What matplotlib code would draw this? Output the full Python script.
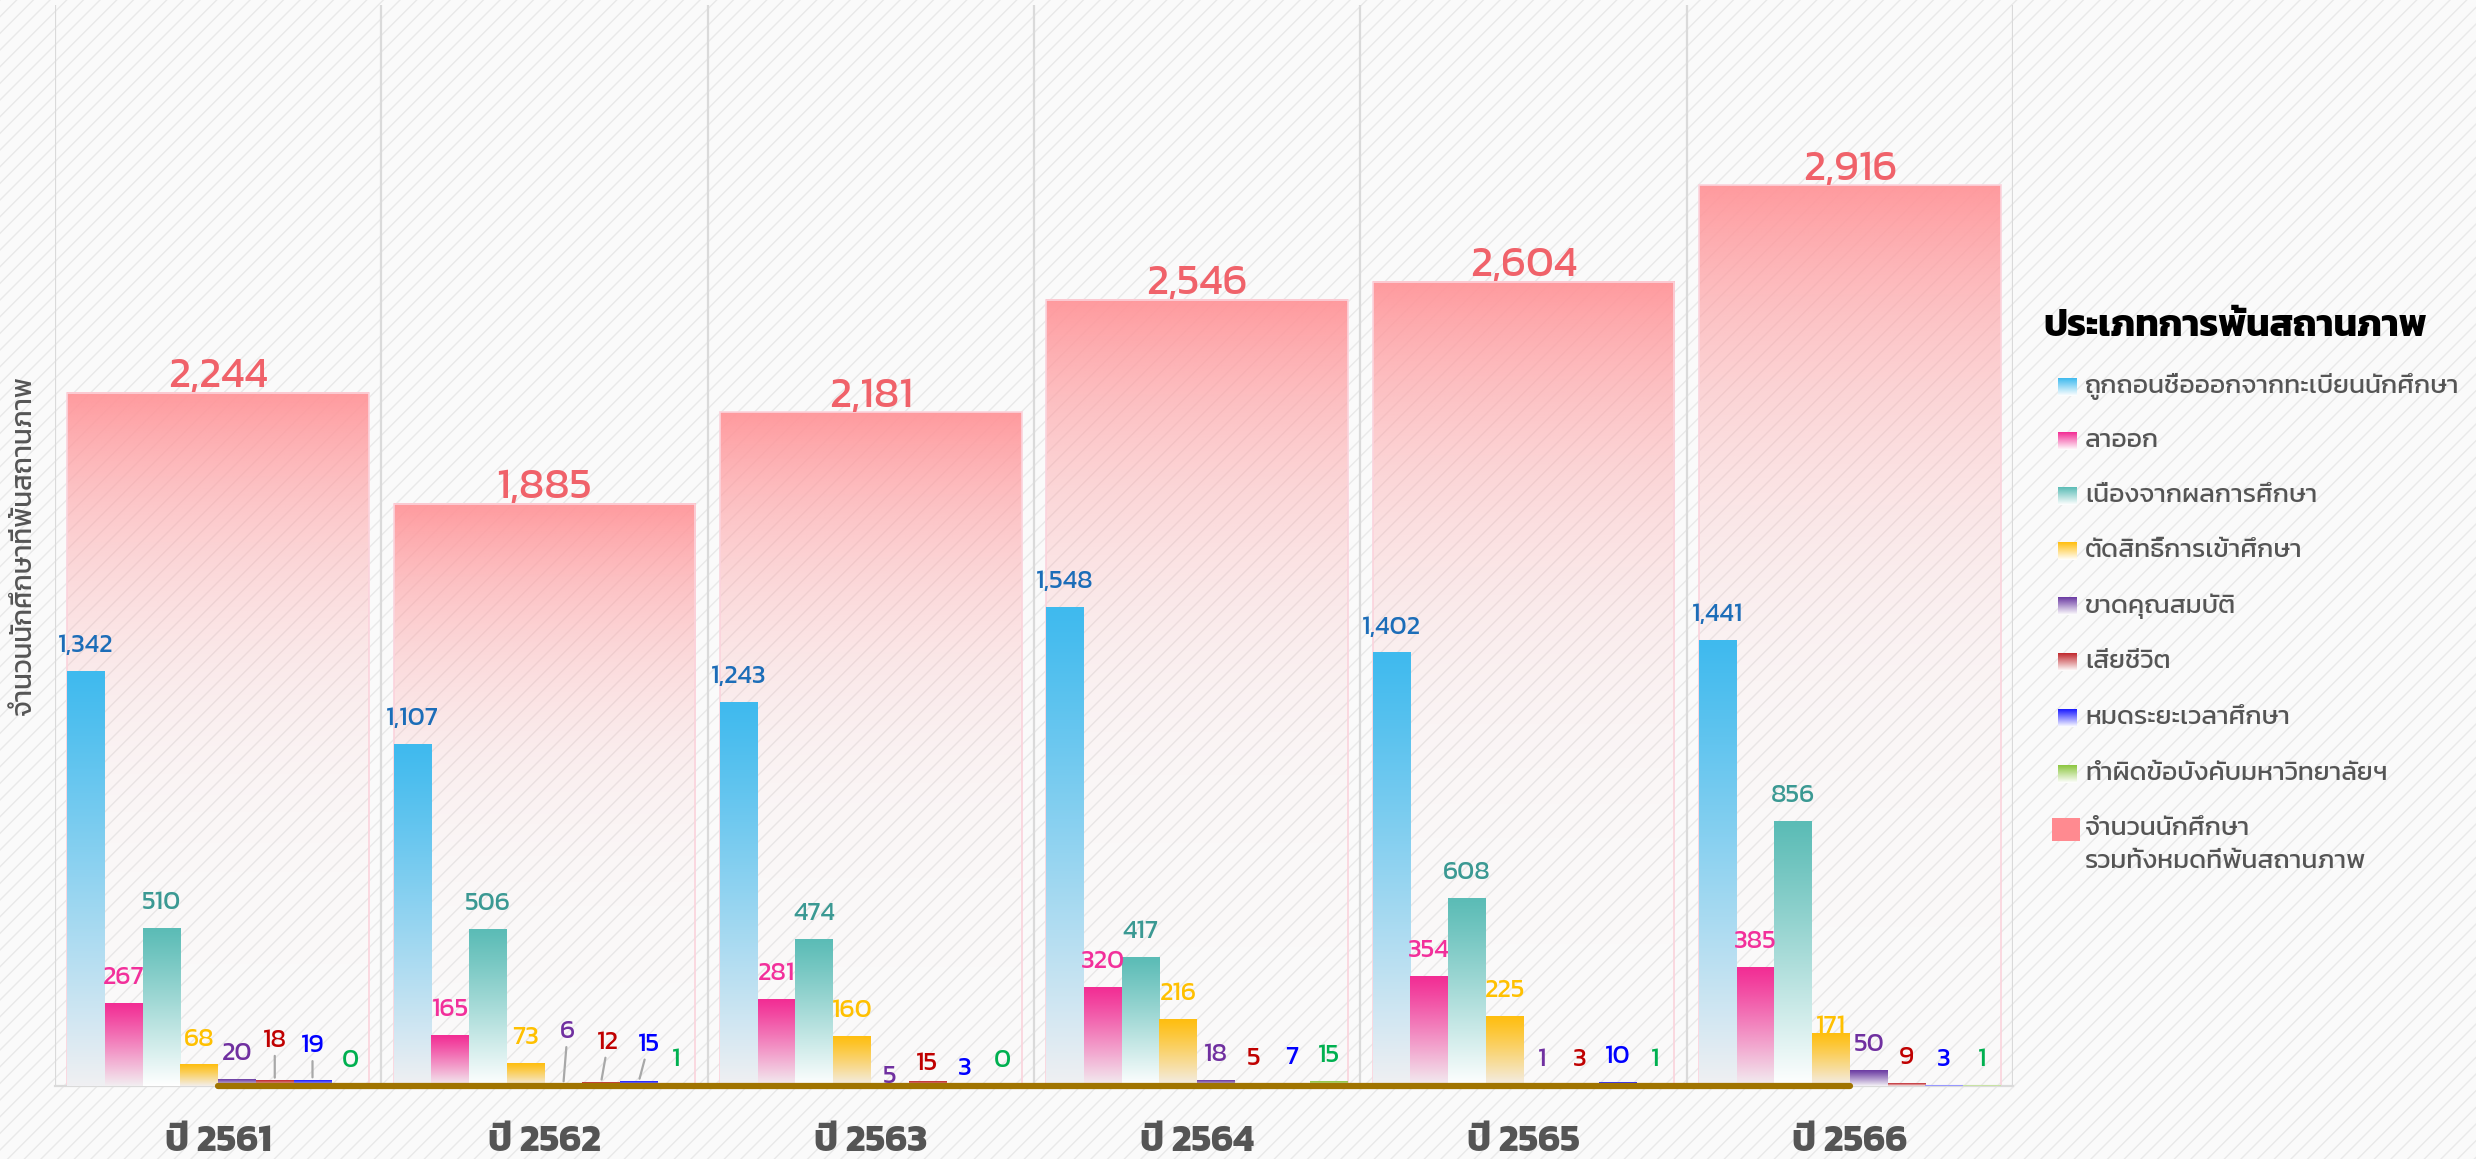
"""Students leaving status by type, academic years 2561-2566."""

import matplotlib

matplotlib.use("Agg")
import matplotlib.pyplot as plt
import numpy as np
from matplotlib import font_manager
from matplotlib.colors import to_rgb
from matplotlib.ft2font import FT2Font
from matplotlib.patches import Rectangle


years = [2561, 2562, 2563, 2564, 2565, 2566]
year_labels = [f"ปี {y}" for y in years]
totals = [2244, 1885, 2181, 2546, 2604, 2916]

series_names = [
    "ถูกถอนชื่อออกจากทะเบียนนักศึกษา",
    "ลาออก",
    "เนื่องจากผลการศึกษา",
    "ตัดสิทธิ์การเข้าศึกษา",
    "ขาดคุณสมบัติ",
    "เสียชีวิต",
    "หมดระยะเวลาศึกษา",
    "ทำผิดข้อบังคับมหาวิทยาลัยฯ",
]
withdrawn = [1342, 1107, 1243, 1548, 1402, 1441]
resigned = [267, 165, 281, 320, 354, 385]
academic = [510, 506, 474, 417, 608, 856]
revoked = [68, 73, 160, 216, 225, 171]
unqualified = [20, 6, 5, 18, 1, 50]
deceased = [18, 12, 15, 5, 3, 9]
time_expired = [19, 15, 3, 7, 10, 3]
misconduct = [0, 1, 0, 15, 1, 1]
series_values = [withdrawn, resigned, academic, revoked,
                 unqualified, deceased, time_expired, misconduct]
baseline_series = [0, 0, 0, 0, 0, 0]

total_name_1 = "จำนวนนักศึกษา"
total_name_2 = "รวมทั้งหมดที่พ้นสถานภาพ"
legend_title = "ประเภทการพ้นสถานภาพ"
y_title = "จำนวนนักศึกษาที่พ้นสถานภาพ"

# styling
top_colors = ["#3FBAEE", "#F22D94", "#5BBCB6", "#FFBE0F",
              "#6A3AA2", "#C0282D", "#1A1AFF", "#8CC63F"]
bottom_colors = ["#F0F0F3", "#F2EEF1", "#FFFFFF", "#F3EEEA",
                 "#F4F2F6", "#F6EEEE", "#F2F2FF", "#F4F8EE"]
label_colors = ["#1C6DB8", "#F2309B", "#3B9993", "#FFC000",
                "#7030A0", "#C00000", "#0000FF", "#00B050"]
# label nudges (dx, dy) in points, and whether a leader line is drawn
nudges = {
    (0, 5): (0, 10, True), (0, 6): (0, 6, True),
    (1, 4): (3, 19, True), (1, 5): (5, 10, True), (1, 6): (7, 8, True),
    (2, 4): (0, -13, False), (2, 5): (0, -6, False), (2, 6): (0, -7, False),
    (5, 3): (0, -14, False),
}


def pick_thai_font():
    preferred = ["Kanit", "Prompt", "Noto Sans Thai", "Noto Sans Thai Looped",
                 "Sarabun", "Loma", "Garuda", "Waree", "Umpush", "Norasi",
                 "Kinnari", "Laksaman", "Tlwg Typo"]
    found = {}
    for f in font_manager.fontManager.ttflist:
        if f.name in found:
            continue
        try:
            if 0x0E01 in FT2Font(f.fname).get_charmap():
                found[f.name] = f.fname
        except Exception:
            pass
    for name in preferred:
        if name in found:
            return name
    if found:
        return sorted(found)[0]
    return "DejaVu Sans"


thai = pick_thai_font()
plt.rcParams["font.family"] = [thai, "DejaVu Sans"]
plt.rcParams["hatch.linewidth"] = 1.0


def vgrad(top, bottom, n=256, power=1.0):
    t = np.linspace(0, 1, n) ** power
    a, b = np.array(to_rgb(top)), np.array(to_rgb(bottom))
    return (a[None, :] * (1 - t[:, None]) + b[None, :] * t[:, None])[:, None, :]


W, H = 2476, 1159
fig = plt.figure(figsize=(W / 100, H / 100), dpi=100, facecolor="#FAFAFA")
fig.patches.append(Rectangle((0, 0), 1, 1, transform=fig.transFigure,
                             facecolor="#FAFAFA", edgecolor="#E9E9E9",
                             hatch="//", lw=0, zorder=-10))

ax = fig.add_axes([55 / W, 1 - 1086 / H, (2013 - 55) / W, (1086 - 5) / H])
ax.set_facecolor("none")

n_series = len(series_values)
group_w = 0.925
bar_w = group_w / n_series
x = np.arange(len(years))

# total bars (wide, fading)
pink = np.array(to_rgb("#FF9599"))
tt = np.linspace(0, 1, 256)
alpha = 0.94 * (1 - tt) ** 3.6 + 0.01
total_img = np.zeros((256, 1, 4))
total_img[:, 0, :3] = pink
total_img[:, 0, 3] = alpha
for i, tot in enumerate(totals):
    x0 = x[i] - group_w / 2
    ax.imshow(total_img, extent=(x0, x0 + group_w, 0, tot), origin="upper",
              aspect="auto", zorder=1, interpolation="bilinear")
    ax.add_patch(Rectangle((x0, 0), group_w, tot, fill=False,
                           edgecolor="#FBD3DC", lw=1.2, zorder=2))
    ax.annotate(f"{tot:,}", xy=(x[i], tot), xytext=(0, 4),
                textcoords="offset points", ha="center", va="baseline",
                fontsize=31, color="#F0626A", zorder=6)

# category bars
for k, vals in enumerate(series_values):
    img = vgrad(top_colors[k], bottom_colors[k], power=1.1)
    for i, v in enumerate(vals):
        bx = x[i] - group_w / 2 + k * bar_w
        if v > 0:
            ax.imshow(img, extent=(bx, bx + bar_w, 0, v), origin="upper",
                      aspect="auto", zorder=3, interpolation="bilinear")
        dx, dy, leader = nudges.get((i, k), (0, 0, False))
        arrow = None
        if leader:
            arrow = dict(arrowstyle="-", color="#A8A8A8", lw=1.6,
                         shrinkA=0, shrinkB=2)
        ax.annotate(f"{v:,}", xy=(bx + bar_w / 2, v), xytext=(dx, 14 + dy),
                    textcoords="offset points", ha="center", va="baseline",
                    fontsize=19, color=label_colors[k], zorder=6,
                    arrowprops=arrow)

ax.plot(x, baseline_series, color="#A07400", lw=4.5,
        solid_capstyle="round", zorder=5, clip_on=False)

for b in np.arange(-0.5, len(years), 1.0):
    ax.axvline(b, color="#DADADA", lw=1.6, zorder=0.5)

ax.set_xlim(-0.5, len(years) - 0.5)
ax.set_ylim(0, 3500)
for side in ["top", "right", "left"]:
    ax.spines[side].set_visible(False)
ax.spines["bottom"].set_color("#DADADA")
ax.spines["bottom"].set_linewidth(1.6)
ax.set_yticks([])
ax.set_xticks(x)
ax.set_xticklabels(year_labels, fontsize=27, fontweight="bold", color="#555555")
ax.tick_params(axis="x", length=0, pad=28)
ax.set_ylabel(y_title, fontsize=20, color="#555555", labelpad=13)

# legend drawn in pixel space
lg = fig.add_axes([0, 0, 1, 1], zorder=10)
lg.set_facecolor("none")
lg.axis("off")
lg.set_xlim(0, W)
lg.set_ylim(H, 0)
lg.text(2043, 327, legend_title, fontsize=27, fontweight="bold",
        color="#000000", va="center", ha="left")
entry_y = [387, 441, 496, 551, 606, 662, 718, 774]
for k, name in enumerate(series_names):
    yc = entry_y[k]
    g = vgrad(top_colors[k], "#FFFFFF", n=64, power=1.0)
    lg.imshow(g, extent=(2058, 2077, yc + 9, yc - 9), origin="upper",
              aspect="auto", interpolation="bilinear")
    lg.text(2085, yc, name, fontsize=19, color="#555555", va="center", ha="left")
lg.add_patch(Rectangle((2052, 818), 28, 23, facecolor="#FF8A90", lw=0))
lg.text(2085, 829, total_name_1, fontsize=19, color="#555555", va="center")
lg.text(2085, 862, total_name_2, fontsize=19, color="#555555", va="center")

fig.savefig("out.png", dpi=100, facecolor=fig.get_facecolor())
